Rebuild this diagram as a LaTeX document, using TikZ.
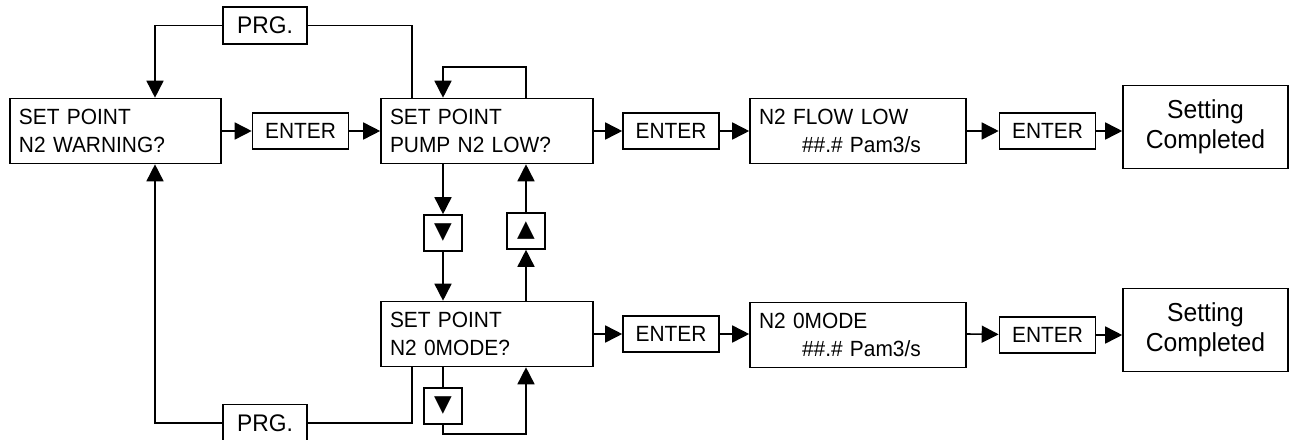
\documentclass[tikz,border=0pt]{standalone}
\usepackage{fontspec}
\setmainfont[FakeStretch=0.95]{Liberation Sans}
\newfontfamily\symfont{DejaVu Sans}
\usetikzlibrary{arrows.meta,calc}
\tikzset{
  box/.style={draw, line width=1.6pt, inner ysep=0pt, font=\fontsize{22}{28}\selectfont},
  lbox/.style={box, align=left, inner xsep=9pt, minimum height=65pt},
  key/.style={box, minimum width=96pt, minimum height=36pt, inner xsep=0pt},
  prg/.style={box, minimum width=84pt, minimum height=37pt, inner xsep=0pt, font=\fontsize{24}{24}\selectfont},
  tri/.style={box, minimum width=38pt, minimum height=36pt, inner xsep=0pt, font=\symfont\fontsize{23}{23}\selectfont},
  done/.style={box, align=center, minimum width=165pt, minimum height=83pt, font=\fontsize{26}{30}\selectfont},
  conn/.style={line width=1.6pt},
}
\begin{document}
\begin{tikzpicture}[x=1pt,y=-1pt, >={Triangle[length=17pt,width=17pt]}]
\useasboundingbox (0,0) rectangle (1290,439);
% row 1
\node[lbox, text width=193pt] (A) at (115.5,131) {SET POINT\\N2 WARNING?};
\node[key] (E1) at (300.5,131) {ENTER};
\node[lbox, text width=194pt] (B) at (487,131) {SET POINT\\PUMP N2 LOW?};
\node[key] (E2) at (671,131) {ENTER};
\node[lbox, text width=198pt] (D) at (858,131) {N2 FLOW LOW\\\hspace*{43pt}\#\#.\# Pam3/s};
\node[key] (E3) at (1047.5,131) {ENTER};
\node[done] (S1) at (1205.5,127) {Setting\\Completed};
% row 2
\node[lbox, text width=194pt] (C) at (487,334) {SET POINT\\N2 0MODE?};
\node[key] (E4) at (671,334) {ENTER};
\node[lbox, text width=198pt] (F) at (858,335) {N2 0MODE\\\hspace*{43pt}\#\#.\# Pam3/s};
\node[key] (E5) at (1047.5,335) {ENTER};
\node[done] (S2) at (1205.5,330) {Setting\\Completed};
% keys
\node[prg] (P1) at (265,25.5) {PRG.};
\node[prg] (P2) at (265,423) {PRG.};
\node[tri] (D1) at (443,233) {▼};
\node[tri] (U1) at (526,231) {▲};
\node[tri] (D2) at (443,406) {▼};
% horizontal flow
\draw[conn,->] (A) -- (E1);
\draw[conn,->] (E1) -- (B);
\draw[conn,->] (B) -- (E2);
\draw[conn,->] (E2) -- (D);
\draw[conn,->] (D) -- (E3);
\draw[conn,->] (E3) -- (E3 -| S1.west);
\draw[conn,->] (C) -- (E4);
\draw[conn,->] (E4) -- (E4 -| F.west);
\draw[conn,->] (E4 -| F.east) -- (E5);
\draw[conn,->] (E5) -- (E5 -| S2.west);
% PRG loops
\draw[conn,->] (P1.west) -| ([xshift=39.5pt]A.north);
\draw[conn] (P1.east) -| ([xshift=32pt]B.north west);
\draw[conn,->] (P2.west) -| ([xshift=39.5pt]A.south);
\draw[conn] (P2.east) -| ([xshift=32pt]C.south west);
% B self loop
\draw[conn,->] (U1 |- B.north) -- ++(0,-31) -| (D1 |- B.north);
% up/down
\draw[conn,->] (D1 |- B.south) -- (D1.north);
\draw[conn,->] (D1.south) -- (D1 |- C.north);
\draw[conn,->] (U1 |- C.north) -- (U1.south);
\draw[conn,->] (U1.north) -- (U1 |- B.south);
\draw[conn] (D2 |- C.south) -- (D2.north);
\draw[conn,->] (D2.south) -- ++(0,9) -| (U1 |- C.south);
\end{tikzpicture}
\end{document}
